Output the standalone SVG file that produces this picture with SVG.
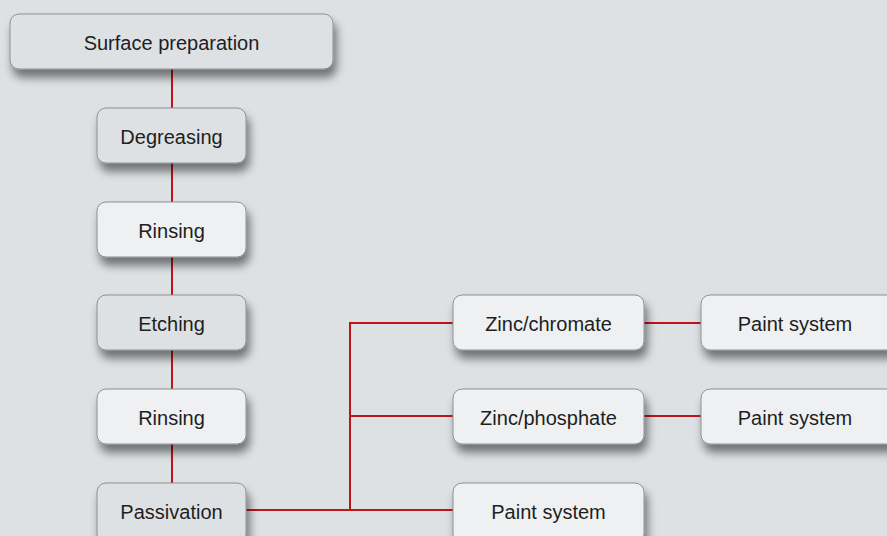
<svg xmlns="http://www.w3.org/2000/svg" width="887" height="536" viewBox="0 0 887 536">
<defs>
<filter id="sh" x="-20%" y="-30%" width="150%" height="200%">
<feGaussianBlur in="SourceAlpha" stdDeviation="5"/>
<feOffset dx="3" dy="8" result="b"/>
<feComponentTransfer><feFuncA type="linear" slope="0.5"/></feComponentTransfer>
<feMerge><feMergeNode/><feMergeNode in="SourceGraphic"/></feMerge>
</filter>
<style>
.bx{stroke:#8c8f93;stroke-width:1;filter:url(#sh)}
.dk{fill:#dee1e4}
.lt{fill:#eef0f2}
.t{font-family:"Liberation Sans",Arial,sans-serif;font-size:20px;fill:#1e1e1e;text-anchor:middle}
.c{stroke:#c0141c;stroke-width:2;fill:none}
</style>
</defs>
<rect width="887" height="536" fill="#dde1e4"/>
<g id="connectors">
<line class="c" x1="172" y1="69" x2="172" y2="483"/>
<polyline class="c" points="246,510 350,510 350,323 453,323"/>
<line class="c" x1="350" y1="416" x2="453" y2="416"/>
<line class="c" x1="350" y1="510" x2="453" y2="510"/>
<line class="c" x1="644" y1="323" x2="701" y2="323"/>
<line class="c" x1="644" y1="416" x2="701" y2="416"/>
</g>
<g id="surface"><rect class="bx dk" x="10" y="14" width="323" height="55" rx="9"/><text class="t" x="171.5" y="50">Surface preparation</text></g>
<g id="degreasing"><rect class="bx dk" x="97" y="108" width="149" height="55" rx="9"/><text class="t" x="171.5" y="144">Degreasing</text></g>
<g id="rinsing1"><rect class="bx lt" x="97" y="202" width="149" height="55" rx="9"/><text class="t" x="171.5" y="238">Rinsing</text></g>
<g id="etching"><rect class="bx dk" x="97" y="295" width="149" height="55" rx="9"/><text class="t" x="171.5" y="331">Etching</text></g>
<g id="rinsing2"><rect class="bx lt" x="97" y="389" width="149" height="55" rx="9"/><text class="t" x="171.5" y="425">Rinsing</text></g>
<g id="passivation"><rect class="bx dk" x="97" y="483" width="149" height="60" rx="9"/><text class="t" x="171.5" y="519">Passivation</text></g>
<g id="zincchromate"><rect class="bx lt" x="453" y="295" width="191" height="55" rx="9"/><text class="t" x="548.5" y="331">Zinc/chromate</text></g>
<g id="zincphosphate"><rect class="bx lt" x="453" y="389" width="191" height="55" rx="9"/><text class="t" x="548.5" y="425">Zinc/phosphate</text></g>
<g id="paint3"><rect class="bx lt" x="453" y="483" width="191" height="60" rx="9"/><text class="t" x="548.5" y="519">Paint system</text></g>
<g id="paint1"><rect class="bx lt" x="701" y="295" width="195" height="55" rx="9"/><text class="t" x="795" y="331">Paint system</text></g>
<g id="paint2"><rect class="bx lt" x="701" y="389" width="195" height="55" rx="9"/><text class="t" x="795" y="425">Paint system</text></g>
</svg>
